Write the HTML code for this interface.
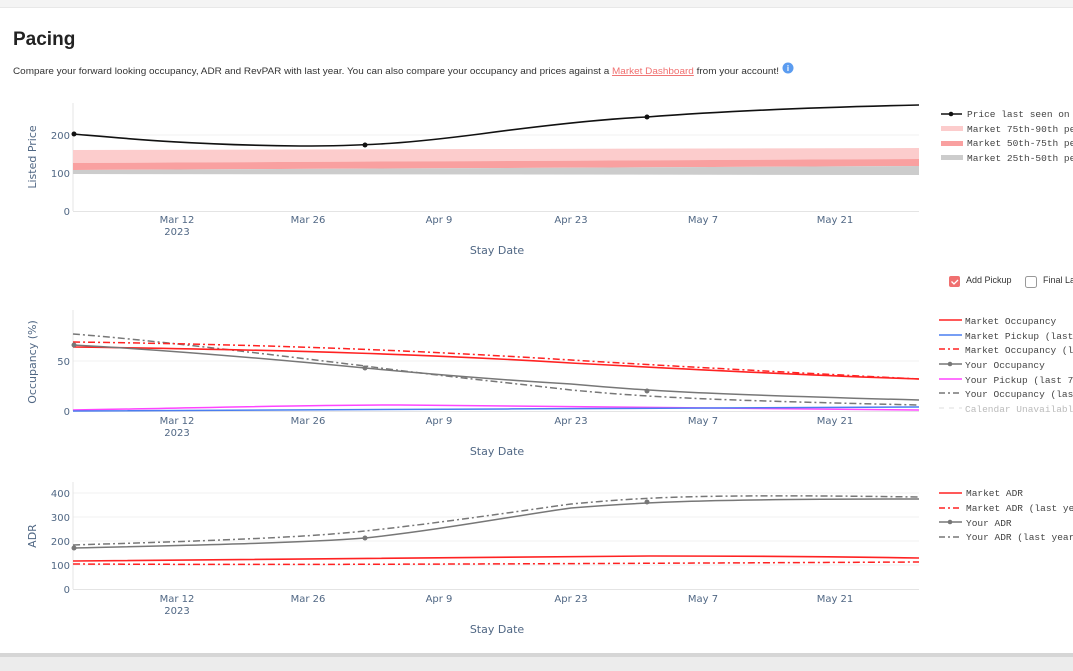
<!DOCTYPE html><html><head><meta charset="utf-8"><style>
body{margin:0;width:1073px;height:671px;overflow:hidden;background:#fff;font-family:"Liberation Sans",sans-serif}
</style></head><body>
<svg width="1073" height="671" xmlns="http://www.w3.org/2000/svg" style="position:absolute;left:0;top:0">
<rect x="0" y="0" width="1073" height="7" fill="#f4f4f4"/>
<line x1="0" y1="7.5" x2="1073" y2="7.5" stroke="#e8e8e8"/>
<rect x="0" y="653" width="1073" height="18" fill="#ececec"/>
<rect x="0" y="653" width="1073" height="4" fill="#d6d6d6"/>
<text x="13" y="45" font-size="19" font-weight="bold" fill="#222">Pacing</text>
<text x="13" y="74" font-size="9.6" fill="#333" textLength="766" lengthAdjust="spacingAndGlyphs">Compare your forward looking occupancy, ADR and RevPAR with last year. You can also compare your occupancy and prices against a <tspan fill="#f07070" text-decoration="underline">Market Dashboard</tspan> from your account!</text>
<circle cx="788" cy="68" r="5.5" fill="#5b9cf0"/><text x="788" y="71" font-size="8" fill="#fff" text-anchor="middle" font-weight="bold">i</text>

<g font-family="'DejaVu Sans',sans-serif" font-size="10" fill="#506784">
<!-- chart1 -->
<line x1="73" y1="135" x2="919" y2="135" stroke="#f0f0f0"/>
<line x1="73" y1="173" x2="919" y2="173" stroke="#f0f0f0"/>
<line x1="73" y1="103" x2="73" y2="211" stroke="#e4e4e4"/>
<line x1="73" y1="211.5" x2="919" y2="211.5" stroke="#e4e4e4"/>
<polygon points="73,150 919,148 919,159 73,163" fill="#fccccc"/>
<polygon points="73,163 919,159 919,166 73,170" fill="#f9a0a0"/>
<polygon points="73,170 919,166 919,175 73,174" fill="#cccccc"/>
<path d="M73,134 C120,138 190,145 300,146 C370,146 410,143 480,134 C540,126 600,119 647,117 C700,113 780,108 919,105" fill="none" stroke="#111" stroke-width="1.6"/>
<circle cx="74" cy="134" r="2.5" fill="#111"/><circle cx="365" cy="145" r="2.5" fill="#111"/><circle cx="647" cy="117" r="2.5" fill="#111"/>
<text x="70" y="139" text-anchor="end">200</text><text x="70" y="177" text-anchor="end">100</text><text x="70" y="215" text-anchor="end">0</text>
<text x="36" y="157" text-anchor="middle" font-size="11" transform="rotate(-90 36 157)">Listed Price</text>
<g text-anchor="middle"><text x="177" y="223">Mar 12</text><text x="177" y="235">2023</text><text x="308" y="223">Mar 26</text><text x="439" y="223">Apr 9</text><text x="571" y="223">Apr 23</text><text x="703" y="223">May 7</text><text x="835" y="223">May 21</text>
<text x="497" y="254" font-size="11">Stay Date</text></g>

<!-- chart2 -->
<line x1="73" y1="361" x2="919" y2="361" stroke="#f0f0f0"/>
<line x1="73" y1="310" x2="73" y2="411" stroke="#e4e4e4"/>
<line x1="73" y1="411.5" x2="919" y2="411.5" stroke="#e4e4e4"/>
<path d="M73,334 C150,340 250,352 365,366 C440,376 520,384 571,390 C647,397 700,400 919,405" fill="none" stroke="#777" stroke-width="1.5" stroke-dasharray="7,3,2,3"/>
<path d="M73,342 C300,345 440,352 571,360 C700,368 919,379 919,379" fill="none" stroke="#f22" stroke-width="1.5" stroke-dasharray="7,3,2,3"/>
<path d="M73,347 C300,350 440,355 571,363 C700,370 800,375 919,379" fill="none" stroke="#f22" stroke-width="1.6"/>
<path d="M73,345 C150,349 250,357 365,368 C440,375 520,381 571,384 C647,391 700,394 919,400" fill="none" stroke="#777" stroke-width="1.5"/>
<circle cx="74" cy="345" r="2.5" fill="#777"/><circle cx="365" cy="368" r="2.5" fill="#777"/><circle cx="647" cy="391" r="2.5" fill="#777"/>
<path d="M73,410 C200,408 300,405 400,405 C500,406 650,409 919,410" fill="none" stroke="#f4f" stroke-width="1.5"/>
<path d="M73,411 C400,410 600,408 919,407" fill="none" stroke="#4a7ef0" stroke-width="1.5"/>
<text x="70" y="365" text-anchor="end">50</text><text x="70" y="415" text-anchor="end">0</text>
<text x="36" y="362" text-anchor="middle" font-size="11" transform="rotate(-90 36 362)">Occupancy (%)</text>
<g text-anchor="middle"><text x="177" y="424">Mar 12</text><text x="177" y="436">2023</text><text x="308" y="424">Mar 26</text><text x="439" y="424">Apr 9</text><text x="571" y="424">Apr 23</text><text x="703" y="424">May 7</text><text x="835" y="424">May 21</text>
<text x="497" y="455" font-size="11">Stay Date</text></g>

<!-- chart3 -->
<line x1="73" y1="493" x2="919" y2="493" stroke="#f0f0f0"/><line x1="73" y1="517" x2="919" y2="517" stroke="#f0f0f0"/><line x1="73" y1="541" x2="919" y2="541" stroke="#f0f0f0"/><line x1="73" y1="565" x2="919" y2="565" stroke="#f0f0f0"/>
<line x1="73" y1="482" x2="73" y2="589" stroke="#e4e4e4"/>
<line x1="73" y1="589.5" x2="919" y2="589.5" stroke="#e4e4e4"/>
<path d="M73,545 C200,541 300,538 365,531 C440,523 520,511 571,504 C647,497 700,494 919,497" fill="none" stroke="#777" stroke-width="1.5" stroke-dasharray="7,3,2,3"/>
<path d="M73,548 C200,545 300,543 365,538 C440,530 520,515 571,508 C647,502 700,499 919,499" fill="none" stroke="#777" stroke-width="1.5"/>
<circle cx="74" cy="548" r="2.5" fill="#777"/><circle cx="365" cy="538" r="2.5" fill="#777"/><circle cx="647" cy="502" r="2.5" fill="#777"/>
<path d="M73,561 C300,558 500,557 650,556 C800,556 919,558 919,558" fill="none" stroke="#f22" stroke-width="1.6"/>
<path d="M73,564 C300,565 500,564 919,562" fill="none" stroke="#f22" stroke-width="1.5" stroke-dasharray="7,3,2,3"/>
<text x="70" y="497" text-anchor="end">400</text><text x="70" y="521" text-anchor="end">300</text><text x="70" y="545" text-anchor="end">200</text><text x="70" y="569" text-anchor="end">100</text><text x="70" y="593" text-anchor="end">0</text>
<text x="36" y="536" text-anchor="middle" font-size="11" transform="rotate(-90 36 536)">ADR</text>
<g text-anchor="middle"><text x="177" y="602">Mar 12</text><text x="177" y="614">2023</text><text x="308" y="602">Mar 26</text><text x="439" y="602">Apr 9</text><text x="571" y="602">Apr 23</text><text x="703" y="602">May 7</text><text x="835" y="602">May 21</text>
<text x="497" y="633" font-size="11">Stay Date</text></g>
</g>

<!-- legends -->
<g font-family="'Liberation Mono',monospace" font-size="9.5" fill="#444">
<line x1="941" y1="114" x2="962" y2="114" stroke="#111" stroke-width="1.6"/><circle cx="951" cy="114" r="2.3" fill="#111"/><text x="967" y="117">Price last seen on PM</text>
<rect x="941" y="126" width="22" height="5" fill="#fccccc"/><text x="967" y="132">Market 75th-90th perc</text>
<rect x="941" y="141" width="22" height="5" fill="#f9a0a0"/><text x="967" y="146">Market 50th-75th perc</text>
<rect x="941" y="155" width="22" height="5" fill="#cccccc"/><text x="967" y="161">Market 25th-50th perc</text>

<line x1="939" y1="320" x2="962" y2="320" stroke="#f22" stroke-width="1.6"/><text x="965" y="324">Market Occupancy</text>
<line x1="939" y1="335" x2="962" y2="335" stroke="#4a7ef0" stroke-width="1.6"/><text x="965" y="339">Market Pickup (last 7</text>
<line x1="939" y1="349" x2="962" y2="349" stroke="#f22" stroke-width="1.6" stroke-dasharray="6,3,2,3"/><text x="965" y="353">Market Occupancy (last</text>
<line x1="939" y1="364" x2="962" y2="364" stroke="#777" stroke-width="1.6"/><circle cx="950" cy="364" r="2.3" fill="#777"/><text x="965" y="368">Your Occupancy</text>
<line x1="939" y1="379" x2="962" y2="379" stroke="#f4f" stroke-width="1.6"/><text x="965" y="383">Your Pickup (last 7 da</text>
<line x1="939" y1="393" x2="962" y2="393" stroke="#777" stroke-width="1.6" stroke-dasharray="6,3,2,3"/><text x="965" y="397">Your Occupancy (last y</text>
<line x1="939" y1="408" x2="962" y2="408" stroke="#ddd" stroke-width="1" stroke-dasharray="5,5"/><text x="965" y="412" fill="#bbb">Calendar Unavailable</text>

<line x1="939" y1="493" x2="962" y2="493" stroke="#f22" stroke-width="1.6"/><text x="966" y="496">Market ADR</text>
<line x1="939" y1="508" x2="962" y2="508" stroke="#f22" stroke-width="1.6" stroke-dasharray="6,3,2,3"/><text x="966" y="511">Market ADR (last year</text>
<line x1="939" y1="522" x2="962" y2="522" stroke="#777" stroke-width="1.6"/><circle cx="950" cy="522" r="2.3" fill="#777"/><text x="966" y="526">Your ADR</text>
<line x1="939" y1="537" x2="962" y2="537" stroke="#777" stroke-width="1.6" stroke-dasharray="6,3,2,3"/><text x="966" y="540">Your ADR (last year to</text>
</g>
<rect x="949" y="276" width="11" height="11" rx="2" fill="#f07070"/><path d="M951.5,281.5 l2.5,2.5 l4,-4" stroke="#fff" stroke-width="1.3" fill="none"/>
<text x="966" y="283" font-size="9" fill="#333">Add Pickup</text>
<rect x="1025.5" y="276.5" width="11" height="11" rx="2" fill="#fff" stroke="#999"/>
<text x="1043" y="283" font-size="9" fill="#333">Final La</text>
</svg>
</body></html>
